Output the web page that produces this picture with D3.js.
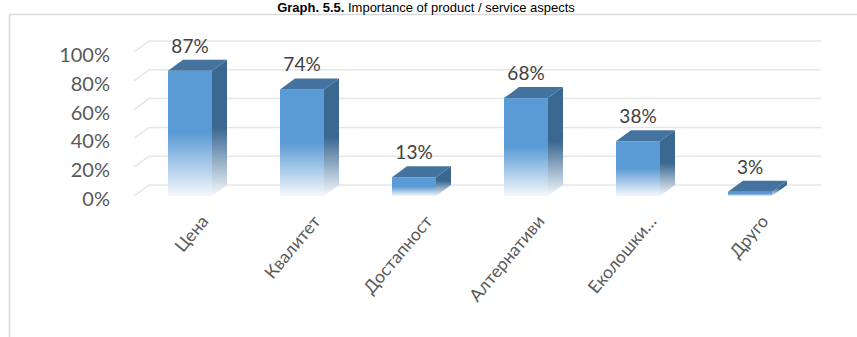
<!DOCTYPE html>
<html><head><meta charset="utf-8">
<script src="https://cdn.jsdelivr.net/npm/d3@7"></script>
<style>body{margin:0;background:#fff}svg{display:block}</style>
</head><body><svg id="c" width="857" height="337"></svg>
<script>
const categories = ["Цена","Квалитет","Достапност","Алтернативи","Еколошки…","Друго"];
const values = [0.87,0.74,0.13,0.68,0.38,0.03];
const yTicks = [0,0.2,0.4,0.6,0.8,1.0];
const titleBold = "Graph. 5.5.";
const titleRest = " Importance of product / service aspects";

const svg = d3.select("#c");
const font = "Lato, 'Open Sans', sans-serif";
const DX = 15, DY = -11;

const x = d3.scaleBand().domain(categories).range([134, 806]).paddingInner(0.607).paddingOuter(0.3035);
const y = d3.scaleLinear().domain([0, 1]).range([196, 52]);
const fmt = d3.format(".0%");

// chart border
svg.append("path").attr("d", "M9.5,337 L9.5,14.5 L857,14.5")
  .attr("fill", "none").attr("stroke", "#D9D9D9").attr("stroke-width", 1.5);

// title
const t = svg.append("text").attr("x", 426).attr("y", 12.3).attr("text-anchor", "middle")
  .attr("font-family", "'Liberation Sans', Arial, sans-serif").attr("font-size", 13).attr("fill", "#000");
t.append("tspan").attr("font-weight", "bold").text(titleBold);
t.append("tspan").text(titleRest);

// gradients
const defs = svg.append("defs");
function grad(id, c) {
  const g = defs.append("linearGradient").attr("id", id).attr("x1", 0).attr("y1", 0).attr("x2", 0).attr("y2", 1);
  g.append("stop").attr("offset", "0%").attr("stop-color", c);
  g.append("stop").attr("offset", "50%").attr("stop-color", c);
  g.append("stop").attr("offset", "100%").attr("stop-color", "#F4F8FC");
}
grad("gFront", "#5B9BD5");
grad("gSide", "#3A6891");

// gridlines
const [r0, r1] = x.range();
svg.append("g").selectAll("path").data(yTicks).join("path")
  .attr("d", d => `M${r0},${y(d)} L${r0 + DX},${y(d) + DY} L${r1 + DX},${y(d) + DY}`)
  .attr("fill", "none").attr("stroke", "#E6E6E6").attr("stroke-width", 1.5);

// y labels
svg.append("g").selectAll("text").data(yTicks).join("text")
  .attr("x", 110).attr("y", d => y(d) + 3).attr("dy", "0.35em").attr("text-anchor", "end")
  .attr("font-family", font).attr("font-size", 20).attr("fill", "#595959").text(fmt);

// bars
const bw = x.bandwidth();
const bars = svg.append("g").selectAll("g").data(categories).join("g");
bars.append("path").attr("fill", "url(#gSide)")
  .attr("d", (c, i) => { const x1 = x(c) + bw, yt = y(values[i]), yb = y(0);
    return `M${x1},${yt} L${x1 + DX},${yt + DY} L${x1 + DX},${yb + DY} L${x1},${yb} Z`; });
bars.append("rect").attr("fill", "url(#gFront)")
  .attr("x", c => x(c)).attr("y", (c, i) => y(values[i])).attr("width", bw)
  .attr("height", (c, i) => y(0) - y(values[i]));
bars.append("path").attr("fill", "#44739F")
  .attr("d", (c, i) => { const x0 = x(c), yt = y(values[i]);
    return `M${x0},${yt} L${x0 + DX},${yt + DY} L${x0 + bw + DX},${yt + DY} L${x0 + bw},${yt} Z`; });

// value labels
svg.append("g").selectAll("text").data(categories).join("text")
  .attr("x", c => x(c) + bw / 2).attr("y", (c, i) => y(values[i]) - 18)
  .attr("text-anchor", "middle").attr("font-family", font).attr("font-size", 19)
  .attr("fill", "#404040").text((c, i) => fmt(values[i]));

// category labels
svg.append("g").selectAll("text").data(categories).join("text")
  .attr("transform", c => `translate(${x(c) + bw / 2 + 10},${214}) rotate(-50)`)
  .attr("text-anchor", "end").attr("dy", "0.7em").attr("font-family", font).attr("font-size", 17.5)
  .attr("fill", "#595959").text(c => c);
</script></body></html>
